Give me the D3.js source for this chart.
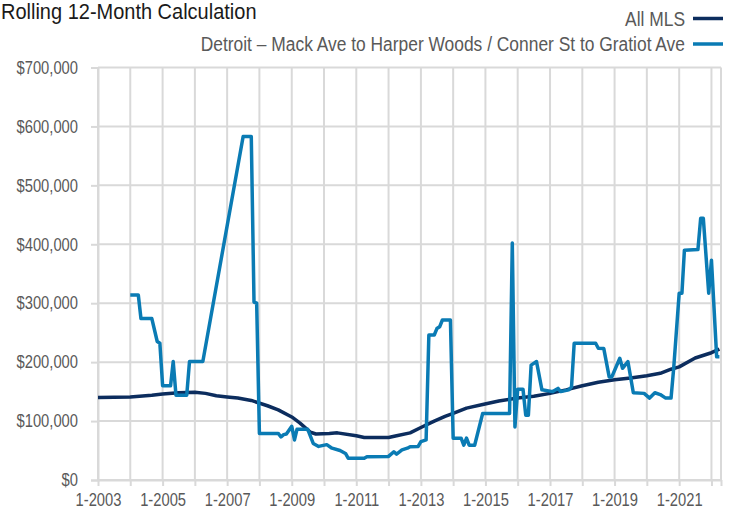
<!DOCTYPE html>
<html>
<head>
<meta charset="utf-8">
<script src="https://cdn.jsdelivr.net/npm/d3@7"></script>
<style>
  body { margin: 0; background: #fff; }
  text { font-family: "Liberation Sans Narrow", "Arial Narrow", "Liberation Sans", Arial, sans-serif; }
</style>
</head>
<body>
<svg id="chart" width="732" height="515"></svg>
<script>
// series names (legend order)
var seriesNames = ["All MLS", "Detroit – Mack Ave to Harper Woods / Conner St to Gratiot Ave"];

// All MLS rolling 12-month value
var mlsDates = ["2003-01", "2004-01", "2004-09", "2005-01", "2005-07", "2006-01", "2006-05", "2006-09",
  "2007-01", "2007-05", "2007-10", "2008-04", "2008-08", "2009-01", "2009-04", "2009-08", "2009-10",
  "2010-03", "2010-06", "2011-01", "2011-04", "2012-01", "2012-04", "2012-09", "2013-01", "2013-06",
  "2013-10", "2014-01", "2014-06", "2014-12", "2015-06", "2016-01", "2016-07", "2017-01", "2017-07",
  "2018-01", "2018-07", "2019-01", "2019-07", "2020-01", "2020-06", "2020-10", "2021-01", "2021-07",
  "2022-01", "2022-04"];
var mlsValues = [140000, 141000, 144000, 146000, 148000, 149000, 147000, 143000,
  141000, 139000, 135000, 126000, 119000, 107000, 97000, 81000, 78000,
  79000, 80000, 75000, 72000, 72000, 75000, 80000, 89000, 100000,
  108000, 113000, 122000, 128000, 134000, 139000, 142000, 147000, 153000,
  160000, 166000, 170000, 173000, 177000, 181000, 188000, 192000, 207000,
  216000, 222000];

// Detroit area rolling 12-month value
var detDates = ["2004-01", "2004-04", "2004-05", "2004-09", "2004-11", "2004-12", "2005-01", "2005-04",
  "2005-05", "2005-06", "2005-10", "2005-11", "2006-04", "2007-07", "2007-10", "2007-11", "2007-12",
  "2008-01", "2008-08", "2008-09", "2008-10", "2008-11", "2009-01", "2009-02", "2009-03", "2009-07",
  "2009-09", "2009-11", "2010-02", "2010-04", "2010-07", "2010-09", "2010-10", "2011-04", "2011-05",
  "2012-01", "2012-03", "2012-04", "2012-06", "2012-08", "2012-09", "2012-12", "2013-01", "2013-03",
  "2013-04", "2013-06", "2013-07", "2013-08", "2013-09", "2013-12", "2014-01", "2014-04", "2014-05",
  "2014-06", "2014-07", "2014-09", "2014-12", "2015-10", "2015-11", "2015-12", "2016-01", "2016-03",
  "2016-04", "2016-05", "2016-06", "2016-08", "2016-10", "2017-02", "2017-04", "2017-05", "2017-08",
  "2017-09", "2017-10", "2018-06", "2018-07", "2018-09", "2018-11", "2018-12", "2019-03", "2019-04",
  "2019-06", "2019-08", "2019-12", "2020-02", "2020-04", "2020-06", "2020-08", "2020-10", "2020-11",
  "2021-01", "2021-02", "2021-03", "2021-08", "2021-09", "2021-10", "2021-12", "2022-01", "2022-03",
  "2022-04"];
var detValues = [314000, 314000, 274000, 274000, 235000, 232000, 160000, 160000,
  201000, 144000, 144000, 201000, 201000, 583000, 583000, 302000, 300000,
  79000, 79000, 73000, 77000, 78000, 91000, 68000, 86000, 86000,
  62000, 57000, 60000, 54000, 50000, 45000, 37000, 37000, 39500,
  40000, 48000, 44000, 51000, 54000, 56500, 57000, 65000, 68000,
  246000, 246000, 257000, 260000, 271500, 271500, 71000, 71000, 59000,
  71000, 59000, 59000, 113000, 113000, 402000, 90000, 154000, 154000,
  110000, 110000, 195000, 201000, 153000, 150000, 155500, 150000, 153000,
  158000, 232000, 232000, 223500, 223000, 175000, 175000, 206500, 189500,
  201000, 148000, 147000, 139000, 148000, 145000, 139000, 139000, 192000,
  317000, 317000, 390000, 391000, 444000, 444000, 317000, 373000, 209000,
  209000];

var yTicks = [0, 100000, 200000, 300000, 400000, 500000, 600000, 700000];
var labelYears = [2003, 2005, 2007, 2009, 2011, 2013, 2015, 2017, 2019, 2021];

var colors = ["#0c2d5e", "#0a7bb4"];
var gridColor = "#d9d9d9";
var textColor = "#595959";

var parseMonth = d3.timeParse("%Y-%m");
var mls = mlsDates.map(function (d, i) { return { date: parseMonth(d), value: mlsValues[i] }; });
var det = detDates.map(function (d, i) { return { date: parseMonth(d), value: detValues[i] }; });

var svg = d3.select("#chart");
var plotLeft = 98, plotRight = 721, plotTop = 67.5, plotBottom = 480;

var startDate = new Date(2003, 0, 1);
var endDate = new Date(2022, 3, 19);

var x = d3.scaleTime().domain([startDate, endDate]).range([plotLeft, plotRight]);
var y = d3.scaleLinear().domain([0, 700000]).range([plotBottom, plotTop]);

var yearTicks = d3.timeYear.range(startDate, new Date(2022, 1, 1));
var xTicks = yearTicks.concat([endDate]);

// no narrow font installed, so squeeze text horizontally
function squeeze(sel, k) {
  sel.each(function () {
    var t = d3.select(this);
    var tx = +t.attr("x") || 0;
    t.attr("x", tx / k).attr("transform", "scale(" + k + ",1)");
  });
}

// vertical gridlines
svg.append("g")
  .selectAll("line")
  .data(xTicks)
  .enter()
  .append("line")
  .attr("x1", function (d) { return x(d); })
  .attr("x2", function (d) { return x(d); })
  .attr("y1", plotTop)
  .attr("y2", plotBottom)
  .style("stroke", gridColor)
  .style("stroke-width", 2);

// horizontal gridlines
svg.append("g")
  .selectAll("line")
  .data(yTicks)
  .enter()
  .append("line")
  .attr("x1", plotLeft)
  .attr("x2", plotRight)
  .attr("y1", function (d) { return y(d); })
  .attr("y2", function (d) { return y(d); })
  .style("stroke", gridColor)
  .style("stroke-width", 2);

// y axis
var yAxis = svg.append("g")
  .attr("transform", "translate(" + plotLeft + ",0)")
  .call(d3.axisLeft(y).tickValues(yTicks).tickSize(7).tickPadding(13).tickFormat(d3.format("$,.0f")));

// x axis
var xAxis = svg.append("g")
  .attr("transform", "translate(0," + plotBottom + ")")
  .call(d3.axisBottom(x).tickValues(xTicks).tickSize(6).tickPadding(7).tickSizeOuter(0)
    .tickFormat(function (d) {
      var yr = d.getFullYear();
      if (d.getMonth() == 0 && d.getDate() == 1 && labelYears.indexOf(yr) >= 0) {
        return "1-" + yr;
      }
      return "";
    }));

[yAxis, xAxis].forEach(function (g) {
  g.select(".domain").style("stroke", gridColor).style("stroke-width", 2);
  g.selectAll(".tick line").style("stroke", gridColor).style("stroke-width", 2);
  g.selectAll(".tick text")
    .style("font-family", "'Liberation Sans Narrow', 'Arial Narrow', 'Liberation Sans', Arial, sans-serif")
    .style("font-size", "18px")
    .style("fill", textColor)
    .call(squeeze, 0.82);
});

var line = d3.line()
  .x(function (d) { return x(d.date); })
  .y(function (d) { return y(d.value); });

[mls, det].forEach(function (series, i) {
  svg.append("path")
    .datum(series)
    .attr("d", line)
    .style("fill", "none")
    .style("stroke", colors[i])
    .style("stroke-width", 3.5)
    .style("stroke-linejoin", "round");
});

// title
svg.append("g")
  .attr("transform", "translate(1,19)")
  .append("text")
  .style("font-size", "21.5px")
  .style("fill", "#1a1a1a")
  .text("Rolling 12-Month Calculation")
  .call(squeeze, 0.93);

// legend
var legend = svg.append("g")
  .selectAll("g")
  .data(seriesNames)
  .enter()
  .append("g")
  .attr("transform", function (d, i) { return "translate(0," + (18.5 + i * 25.5) + ")"; });

legend.append("line")
  .attr("x1", 693)
  .attr("x2", 723)
  .style("stroke", function (d, i) { return colors[i]; })
  .style("stroke-width", 3.5);

legend.append("text")
  .attr("x", 685)
  .attr("y", 0)
  .attr("dy", ".35em")
  .attr("text-anchor", "end")
  .style("font-size", "20px")
  .style("fill", textColor)
  .text(function (d) { return d; })
  .call(squeeze, 0.87);
</script>
</body>
</html>
